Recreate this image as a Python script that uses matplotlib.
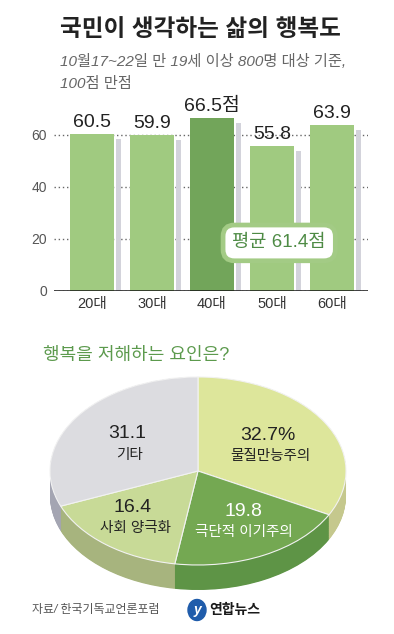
import matplotlib
matplotlib.use("Agg")
import matplotlib.pyplot as plt
import numpy as np
from matplotlib.patches import Ellipse

plt.rcParams['font.family'] = ['Liberation Sans', 'Noto Sans CJK KR']

# ---- data ----
title = "국민이 생각하는 삶의 행복도"
subtitle1 = "10월17~22일 만 19세 이상 800명 대상 기준,"
subtitle2 = "100점 만점"
age_groups = ["20대", "30대", "40대", "50대", "60대"]
scores = [60.5, 59.9, 66.5, 55.8, 63.9]
score_suffix = ["", "", "점", "", ""]
highlight = [False, False, True, False, False]
yticks = [0, 20, 40, 60]
average_label = "평균 61.4점"

pie_title = "행복을 저해하는 요인은?"
factors = ["물질만능주의", "극단적 이기주의", "사회 양극화", "기타"]
factor_values = [32.7, 19.8, 16.4, 31.1]
factor_value_labels = ["32.7%", "19.8", "16.4", "31.1"]
source = "자료/ 한국기독교언론포럼"
logo_text = "연합뉴스"

# ---- styles ----
W, H = 394, 634
bar_light = '#A0CA80'
bar_dark = '#72A55A'
shadow_col = '#D3D3DB'
top_cols = ['#DDE69B', '#74A852', '#C8DA97', '#DCDCE0']
side_cols = ['#C5C88D', '#5E9446', '#A7B47E', '#A4A5B2']
label_cols = ['#222222', '#FFFFFF', '#222222', '#222222']

fig = plt.figure(figsize=(W / 100, H / 100), dpi=100)
fig.patch.set_facecolor('white')


def fx(x):
    return x / W


def fy(y):
    return 1 - y / H


# ---- titles ----
fig.text(fx(200), fy(30), title, ha='center', va='center', fontsize=17,
         fontweight='bold', color='#222222')
fig.text(fx(60), fy(62), subtitle1, ha='left', va='center', fontsize=11,
         color='#666666', style='italic')
fig.text(fx(60), fy(84), subtitle2, ha='left', va='center', fontsize=11,
         color='#666666', style='italic')

# ---- bar chart ----
bx0, bx1, by_top, by_bot = 54, 368, 110, 291
axb = fig.add_axes([fx(bx0), fy(by_bot), (bx1 - bx0) / W, (by_bot - by_top) / H])
x = np.arange(len(age_groups))
ppu = 2.6  # pixels per unit
ymax = (by_bot - by_top) / ppu
cols = [bar_dark if h else bar_light for h in highlight]
axb.bar(x + 0.44, [s - 2 for s in scores], width=0.085, color=shadow_col, zorder=2)
axb.bar(x, scores, width=0.733, color=cols, zorder=3)
for xi, s, suf in zip(x, scores, score_suffix):
    axb.text(xi, s + 2.6, f"{s:.1f}{suf}", ha='center', va='baseline',
             fontsize=14, color='#222222', zorder=5)
axb.set_xlim(-0.633, 4.6)
axb.set_ylim(0, ymax)
axb.set_yticks(yticks)
axb.set_yticklabels([str(t) for t in yticks], fontsize=10, color='#555555')
axb.set_xticks(x)
axb.set_xticklabels(age_groups, fontsize=10.5, color='#333333')
axb.tick_params(axis='both', length=0)
axb.tick_params(axis='y', pad=5)
axb.tick_params(axis='x', pad=4)
for sp in axb.spines.values():
    sp.set_visible(False)
axb.set_axisbelow(True)
axb.yaxis.grid(True, linestyle=(0, (1, 2)), color='#666666', linewidth=1)
axb.axhline(0, color='#111111', linewidth=1.8, zorder=4)
axb.text(3.12, 18.5, average_label, ha='center', va='center', fontsize=13.5,
         color='#4E8B45', zorder=6,
         bbox=dict(boxstyle='round,pad=0.5,rounding_size=0.6', fc='white',
                   ec='#A3CB85', lw=3.4))

# ---- pie chart ----
fig.text(fx(43), fy(355), pie_title, ha='left', va='center', fontsize=13,
         color='#5C9A4D')
px0, px1, py0, py1 = 40, 360, 370, 600
axp = fig.add_axes([fx(px0), fy(py1), (px1 - px0) / W, (py1 - py0) / H])
cx, cy, a, b = 198, 471, 148, 94
depth = 25 / b
for k in np.linspace(depth, 0, 40):
    axp.pie(factor_values, colors=side_cols, startangle=90, counterclock=False,
            center=(0, -k), radius=1, wedgeprops=dict(linewidth=0))
axp.pie(factor_values, colors=top_cols, startangle=90, counterclock=False,
        center=(0, 0), radius=1,
        wedgeprops=dict(linewidth=0.8, edgecolor='#F2F2F2'))
axp.set_aspect('auto')
axp.set_xlim((px0 - cx) / a, (px1 - cx) / a)
axp.set_ylim((cy - py1) / b, (cy - py0) / b)
axp.axis('off')

# label positions in pixels (value line, name line)
lab_pos = [((268, 435), (270, 456)),
           ((243, 512), (244, 532)),
           ((133, 508), (135, 528)),
           ((127, 433), (129, 455))]
for (vp, npos), vl, nm, c in zip(lab_pos, factor_value_labels, factors, label_cols):
    axp.text((vp[0] - cx) / a, (cy - vp[1]) / b, vl, ha='center', va='center',
             fontsize=14, color=c)
    axp.text((npos[0] - cx) / a, (cy - npos[1]) / b, nm, ha='center', va='center',
             fontsize=10.5, color=c)

# ---- source & logo ----
fig.text(fx(32), fy(610), source, ha='left', va='center', fontsize=8.6,
         color='#555555', style='italic')
logo = Ellipse((fx(197), fy(610)), 18 / W, 21 / H, transform=fig.transFigure,
               color='#1F5CAB')
fig.patches.append(logo)
fig.text(fx(197), fy(610), "y", ha='center', va='center', fontsize=10,
         color='white', fontweight='bold', style='italic')
fig.text(fx(209), fy(610), logo_text, ha='left', va='center', fontsize=10,
         fontweight='bold', color='#1A1A1A')

fig.savefig('out.png', dpi=100, facecolor='white')
